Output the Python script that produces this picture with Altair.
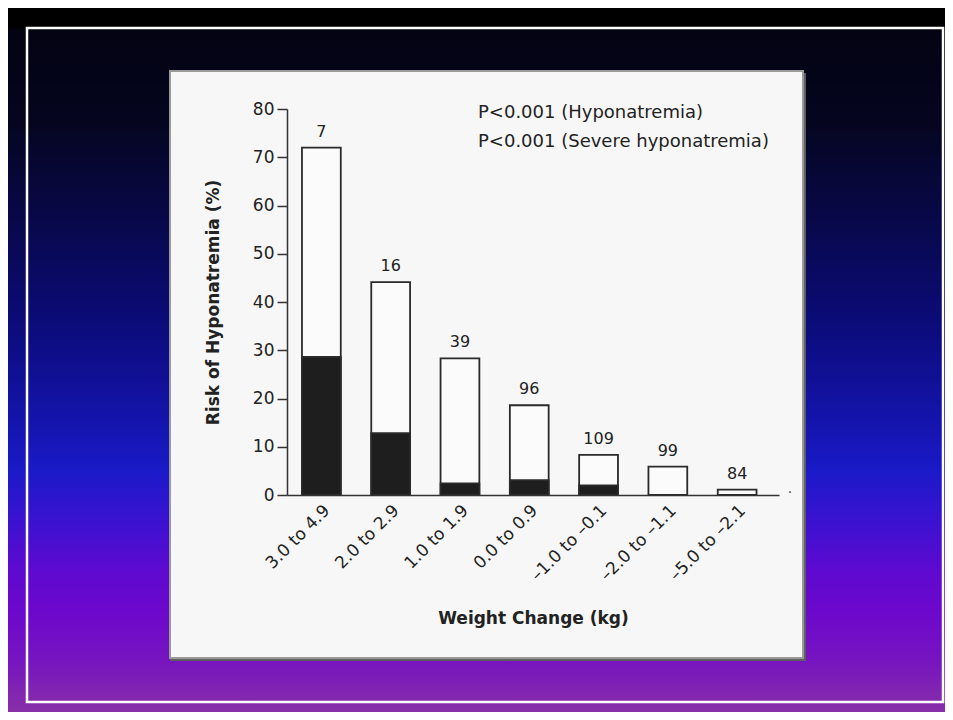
import altair as alt
import pandas as pd

# ---- data ----
categories = ["3.0 to 4.9", "2.0 to 2.9", "1.0 to 1.9", "0.0 to 0.9",
              "\u20131.0 to \u20130.1", "\u20132.0 to \u20131.1", "\u20135.0 to \u20132.1"]
hyponatremia = [72.0, 44.1, 28.3, 18.6, 8.3, 5.9, 1.1]
severe_hyponatremia = [28.6, 12.8, 2.4, 3.1, 2.0, 0.0, 0.0]
n_runners = [7, 16, 39, 96, 109, 99, 84]
y_ticks = [0, 10, 20, 30, 40, 50, 60, 70, 80]
notes = ["P<0.001 (Hyponatremia)", "P<0.001 (Severe hyponatremia)"]

df = pd.DataFrame({
    "cat": categories,
    "total": hyponatremia,
    "severe": severe_hyponatremia,
    "n": n_runners,
})

FONT = "DejaVu Sans"
INK = "#222222"

PW, PH = 492, 386          # plot area
PL, PT = 279, 101          # padding left / top
CW, CH = 937, 704          # canvas (fits the page without scrollbars)
PR, PB = CW - PL - PW, CH - PT - PH

one = alt.Data(values=[{"k": 1}])

xscale = alt.Scale(paddingInner=0.44, paddingOuter=0.27, align=0.4)
yscale = alt.Scale(domain=[0, 80], nice=False, zero=True)

xaxis = alt.Axis(
    title="Weight Change (kg)", labelAngle=-45, labelAlign="right", labelBaseline="top",
    ticks=False, tickSize=0, labelPadding=7, labelFont=FONT, labelFontSize=17,
    labelColor=INK, titleFont=FONT, titleFontSize=17, titleFontWeight="bold",
    titleColor=INK, titlePadding=27, domainColor="#333333", domainWidth=1.5,
    grid=False, zindex=1,
)
yaxis = alt.Axis(
    title="Risk of Hyponatremia (%)", values=y_ticks, tickSize=10, tickWidth=1.5,
    tickColor="#333333", labelPadding=3, labelFont=FONT, labelFontSize=17,
    labelColor=INK, titleFont=FONT, titleFontSize=17, titleFontWeight="bold",
    titleColor=INK, titlePadding=30, domainColor="#333333", domainWidth=1.5,
    grid=False, zindex=1,
)

X = alt.X("cat:N", sort=categories, scale=xscale, axis=xaxis)

# ---- slide decoration ----
grad = alt.Gradient(
    gradient="linear", x1=0, x2=0, y1=0, y2=1,
    stops=[
        alt.GradientStop(color="#000000", offset=0.0),
        alt.GradientStop(color="#000000", offset=0.026),
        alt.GradientStop(color="#030312", offset=0.031),
        alt.GradientStop(color="#05051f", offset=0.157),
        alt.GradientStop(color="#08084a", offset=0.298),
        alt.GradientStop(color="#0b0b78", offset=0.438),
        alt.GradientStop(color="#1414ac", offset=0.579),
        alt.GradientStop(color="#1a1ac8", offset=0.649),
        alt.GradientStop(color="#3a12d0", offset=0.719),
        alt.GradientStop(color="#5e0ad0", offset=0.789),
        alt.GradientStop(color="#6c08cc", offset=0.846),
        alt.GradientStop(color="#7614c0", offset=0.916),
        alt.GradientStop(color="#8a34a4", offset=1.0),
    ],
)
bg = alt.Chart(one).mark_rect(fill=grad).encode(
    x=alt.value(-PL), x2=alt.value(CW - PL + 2), y=alt.value(-PT), y2=alt.value(CH - PT + 8))

frame = alt.Chart(one).mark_rect(fill=None, stroke="white", strokeWidth=2.5).encode(
    x=alt.value(-260), x2=alt.value(656), y=alt.value(-81), y2=alt.value(593))

shadow = alt.Chart(one).mark_rect(fill="#5e5e5e").encode(
    x=alt.value(-117), x2=alt.value(519), y=alt.value(-36), y2=alt.value(552))
panel = alt.Chart(one).mark_rect(fill="#f7f7f7", stroke="#9a9a9a", strokeWidth=2).encode(
    x=alt.value(-117), x2=alt.value(516), y=alt.value(-38), y2=alt.value(549))

# ---- data marks ----
bars_total = alt.Chart(df).mark_bar(fill="#fbfbfb", stroke="#2a2a2a", strokeWidth=1.8).encode(
    x=X, y=alt.Y("total:Q", scale=yscale, axis=yaxis))
bars_severe = alt.Chart(df).transform_filter("datum.severe > 0").mark_bar(
    fill="#1e1e1e", stroke="#2a2a2a", strokeWidth=1.8).encode(
    x=X, y=alt.Y("severe:Q", scale=yscale, axis=yaxis))
labels = alt.Chart(df).mark_text(font=FONT, fontSize=16, color=INK, baseline="bottom", dy=-8).encode(
    x=X, y=alt.Y("total:Q", scale=yscale, axis=yaxis), text="n:Q")

note_df = pd.DataFrame({"t": notes, "row": [0, 1]})
note_layers = []
for i, ypix in enumerate([4, 33]):
    note_layers.append(
        alt.Chart(note_df).transform_filter(f"datum.row == {i}").mark_text(
            font=FONT, fontSize=18, color=INK, align="left", baseline="middle"
        ).encode(x=alt.value(191), y=alt.value(ypix), text="t:N")
    )

dot = alt.Chart(one).mark_text(text=".", font=FONT, fontSize=14, color="#444").encode(
    x=alt.value(PW + 11), y=alt.value(PH - 6))

chart = alt.layer(bg, frame, shadow, panel, bars_total, bars_severe, labels, *note_layers, dot).properties(
    width=PW, height=PH,
    padding={"left": PL, "top": PT, "right": PR, "bottom": PB},
    autosize=alt.AutoSizeParams(type="none"),
    background="#000000",
).configure_view(stroke=None)

chart.save("out.html", embed_options={"renderer": "svg", "actions": False})
